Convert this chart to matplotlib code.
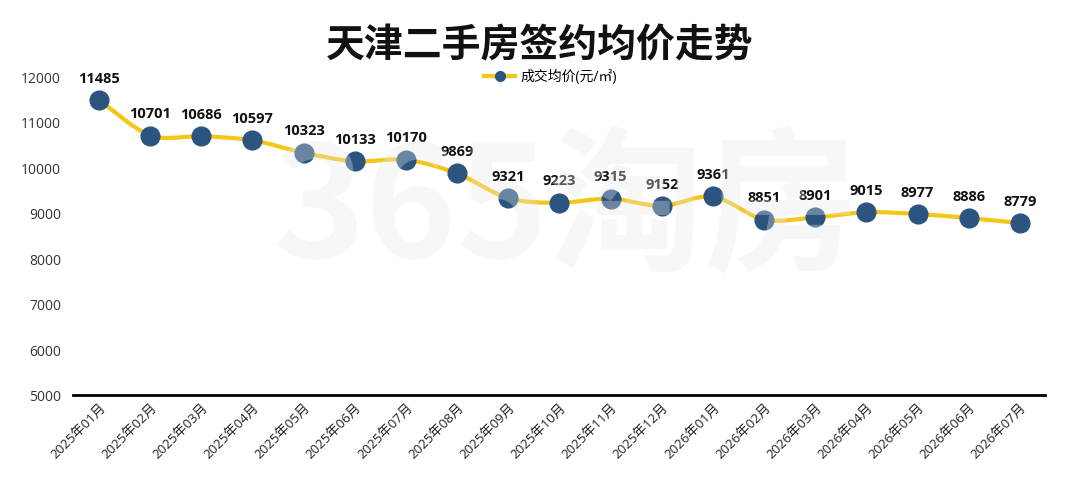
import numpy as np
from matplotlib import pyplot as plt
from matplotlib.path import Path
from matplotlib.patches import PathPatch

plt.rcParams['font.family'] = ['Open Sans', 'Noto Sans CJK SC', 'DejaVu Sans']

months = ["2025年01月", "2025年02月", "2025年03月", "2025年04月", "2025年05月", "2025年06月",
          "2025年07月", "2025年08月", "2025年09月", "2025年10月", "2025年11月", "2025年12月",
          "2026年01月", "2026年02月", "2026年03月", "2026年04月", "2026年05月", "2026年06月",
          "2026年07月"]
prices = [11485, 10701, 10686, 10597, 10323, 10133, 10170, 9869, 9321, 9223,
          9315, 9152, 9361, 8851, 8901, 9015, 8977, 8886, 8779]

line_color = "#f5c518"
dot_color = "#2b5580"


def smooth_path(x, y, k=0.3):
    # cubic bezier through the points, like echarts smooth lines
    verts = [(x[0], y[0])]
    codes = [Path.MOVETO]
    n = len(x)
    for i in range(n - 1):
        x0, y0 = x[max(i - 1, 0)], y[max(i - 1, 0)]
        x1, y1 = x[i], y[i]
        x2, y2 = x[i + 1], y[i + 1]
        x3, y3 = x[min(i + 2, n - 1)], y[min(i + 2, n - 1)]
        c1 = (x1 + (x2 - x0) * k / 2, y1 + (y2 - y0) * k / 2)
        c2 = (x2 - (x3 - x1) * k / 2, y2 - (y3 - y1) * k / 2)
        verts += [c1, c2, (x2, y2)]
        codes += [Path.CURVE4] * 3
    return Path(verts, codes)


fig = plt.figure(figsize=(10.8, 4.81), dpi=100)
ax = fig.add_axes([0.068, 0.177, 0.90, 0.662])

xs = np.arange(len(prices))
ax.add_patch(PathPatch(smooth_path(xs, prices), fill=False, edgecolor=line_color, lw=3, zorder=2))
ax.plot(xs, prices, linestyle='none', marker='o', markersize=13.5,
        markerfacecolor=dot_color, markeredgecolor=dot_color, zorder=3)
# legend handle only
ax.plot([], [], color=line_color, lw=3, marker='o', markersize=7,
        markerfacecolor=dot_color, markeredgecolor=dot_color, label="成交均价(元/㎡)")

for xi, p in zip(xs, prices):
    ax.annotate(str(p), (xi, p), xytext=(0, 11), textcoords='offset points',
                ha='center', va='bottom', fontsize=10.5, fontweight='bold', color='#111111', zorder=4)

ax.set_xlim(-0.5, len(prices) - 0.5)
ax.set_ylim(5000, 12000)
ax.set_yticks(range(5000, 12001, 1000))
ax.set_xticks(xs)
ax.set_xticklabels(months, rotation=45, ha='right', rotation_mode='anchor', fontsize=9.5, color='#222222')
ax.tick_params(axis='y', labelsize=10, colors='#333333', length=0, pad=9)
ax.tick_params(axis='x', length=0, pad=4)
for s in ['left', 'right', 'top']:
    ax.spines[s].set_visible(False)
ax.spines['bottom'].set_linewidth(2)
ax.spines['bottom'].set_color('black')

fig.text(0.5, 0.905, "天津二手房签约均价走势", ha='center', va='center',
         fontsize=28, fontweight='bold', color='#111111', family='Noto Sans CJK SC')
fig.legend(loc='center', bbox_to_anchor=(0.51, 0.838), frameon=False, fontsize=10,
           handlelength=2.2, handletextpad=0.4)

# watermark
fig.text(0.525, 0.56, "365淘房", ha='center', va='center', fontsize=112, fontweight='bold',
         fontstyle='italic', color='#e9e9e9', alpha=0.33, zorder=10,
         family=['Noto Sans CJK SC'])

fig.savefig("out.png", dpi=100)
